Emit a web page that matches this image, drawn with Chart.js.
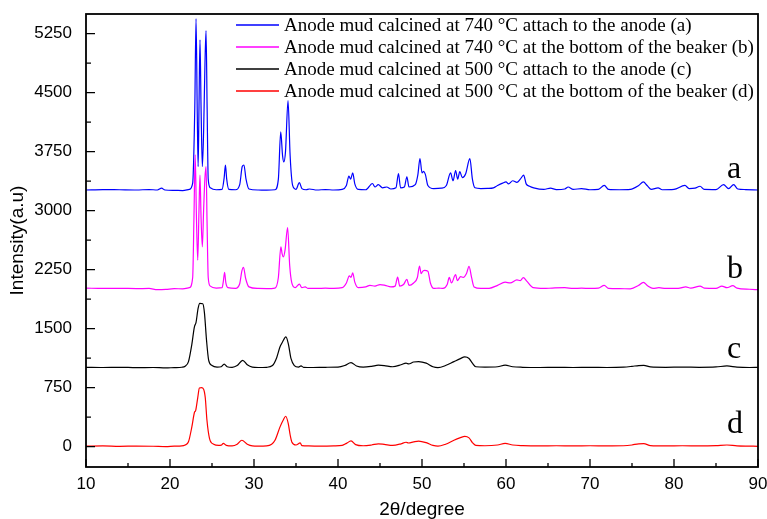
<!DOCTYPE html>
<html>
<head>
<meta charset="utf-8">
<script src="https://cdn.jsdelivr.net/npm/chart.js@4.4.1/dist/chart.umd.min.js"></script>
<style>
  html, body { margin: 0; padding: 0; background: #fff; }
  #wrap { width: 767px; height: 519px; }
</style>
</head>
<body>
<div id="wrap"><canvas id="xrd" width="767" height="519"></canvas></div>
<script>
// values (2theta in degrees, intensity in a.u.)
const seriesLabels = [
  "Anode mud calcined at 740 \u00b0C attach to the anode (a)",
  "Anode mud calcined at 740 \u00b0C at the bottom of the beaker (b)",
  "Anode mud calcined at 500 \u00b0C attach to the anode (c)",
  "Anode mud calcined at 500 \u00b0C at the bottom of the beaker (d)"
];
const curveLetters = ["a", "b", "c", "d"];
const seriesColors = ["#0000ff", "#ff00ff", "#000000", "#ff0000"];

const xTickValues = [10, 20, 30, 40, 50, 60, 70, 80, 90];
const yTickValues = [0, 750, 1500, 2250, 3000, 3750, 4500, 5250];

const thetaA = [10, 12, 14, 16, 17.5, 18.5, 19, 19.4, 20.5, 21.5, 22.3, 22.7, 22.95, 23.1, 23.25, 23.35, 23.45, 23.57, 23.7, 23.85, 24, 24.15, 24.29, 24.42, 24.55, 24.8, 25.5, 26.2, 26.45, 26.6, 26.75, 27, 27.8, 28.3, 28.6, 28.8, 29.05, 29.4, 30.5, 31.5, 32.5, 32.9, 33.18, 33.4, 33.55, 33.75, 34.05, 34.3, 34.6, 35, 35.4, 35.7, 36.2, 36.6, 37.5, 38.5, 39.5, 40.5, 41, 41.3, 41.5, 41.75, 42, 42.4, 43.3, 44.1, 44.4, 44.8, 45.3, 45.8, 46.3, 46.9, 47.2, 47.45, 47.9, 48.2, 48.45, 49.2, 49.5, 49.76, 50, 50.2, 50.4, 50.7, 51.4, 52.3, 52.9, 53.4, 53.7, 54, 54.25, 54.5, 54.8, 55.2, 55.7, 56, 56.3, 57, 57.8, 58.5, 59, 59.6, 60, 60.3, 60.8, 61.3, 61.7, 62.1, 62.4, 62.8, 63.3, 64.5, 65.3, 66, 67, 67.4, 68, 69, 70, 71, 71.7, 72.2, 73.5, 74.8, 75.8, 76.35, 76.8, 77.3, 78.1, 78.6, 80, 81.3, 81.8, 82.5, 83.1, 83.6, 85, 85.9, 86.5, 87.1, 87.6, 88.5, 90];
const intensityA = [3262, 3268, 3265, 3262, 3268, 3262, 3285, 3262, 3258, 3255, 3270, 3350, 4300, 5440, 4200, 3560, 4300, 5170, 4300, 3560, 4000, 4800, 5290, 4300, 3400, 3290, 3265, 3270, 3420, 3580, 3400, 3270, 3265, 3330, 3560, 3580, 3400, 3275, 3262, 3260, 3265, 3400, 4000, 3700, 3620, 3750, 4400, 3700, 3320, 3270, 3355, 3280, 3265, 3275, 3262, 3268, 3262, 3270, 3320, 3440, 3400, 3480, 3340, 3270, 3265, 3345, 3300, 3330, 3290, 3300, 3275, 3290, 3470, 3290, 3300, 3430, 3300, 3330, 3450, 3660, 3480, 3500, 3460, 3320, 3280, 3285, 3320, 3480, 3380, 3510, 3400, 3495, 3420, 3470, 3660, 3400, 3290, 3280, 3282, 3290, 3320, 3350, 3365, 3340, 3380, 3360, 3400, 3450, 3340, 3310, 3290, 3270, 3285, 3268, 3275, 3300, 3270, 3280, 3265, 3270, 3322, 3270, 3265, 3270, 3320, 3365, 3320, 3270, 3290, 3265, 3270, 3320, 3280, 3285, 3310, 3270, 3268, 3330, 3280, 3330, 3275, 3268, 3262];

const thetaB = [10, 12, 14, 16, 17.5, 18.5, 19.5, 20.5, 21.5, 22.3, 22.7, 22.85, 23, 23.15, 23.3, 23.45, 23.57, 23.7, 23.85, 24, 24.15, 24.29, 24.42, 24.55, 24.8, 25.5, 26.2, 26.35, 26.5, 26.65, 26.9, 27.8, 28.3, 28.55, 28.75, 29, 29.4, 30.5, 31.5, 32.5, 32.9, 33.2, 33.35, 33.5, 33.7, 34, 34.25, 34.5, 34.9, 35.4, 35.7, 36.1, 36.4, 37.5, 38.5, 39.5, 40.5, 41, 41.35, 41.55, 41.75, 42, 42.4, 43.3, 43.8, 44.4, 45, 45.6, 46.3, 46.8, 47.1, 47.35, 47.8, 48.2, 48.45, 49, 49.45, 49.7, 49.9, 50.1, 50.3, 50.7, 51, 51.4, 52, 52.5, 53, 53.25, 53.5, 54, 54.2, 54.6, 54.9, 55.3, 55.6, 55.9, 56.2, 57, 58, 59, 59.9, 60.5, 61.3, 61.7, 62.06, 62.5, 63.25, 64.5, 65.5, 67, 68, 69, 70, 71, 71.7, 72.2, 73.5, 74.8, 75.8, 76.35, 76.9, 77.5, 78.2, 79, 80.5, 81.4, 82, 83.1, 83.6, 85, 85.7, 86.3, 87, 87.5, 89, 90];
const intensityB = [2015, 2010, 2012, 2008, 2010, 1995, 1998, 2008, 2005, 2020, 2150, 2900, 3710, 2900, 2370, 3000, 3450, 2900, 2540, 3000, 3400, 3560, 2800, 2150, 2040, 2015, 2020, 2100, 2215, 2080, 2020, 2012, 2070, 2230, 2280, 2140, 2030, 2010, 2008, 2015, 2150, 2540, 2450, 2410, 2500, 2785, 2300, 2080, 2020, 2065, 2020, 2030, 2012, 2010, 2015, 2010, 2020, 2080, 2170, 2150, 2210, 2090, 2020, 2030, 2050, 2040, 2060, 2050, 2030, 2040, 2155, 2040, 2060, 2125, 2050, 2080, 2150, 2295, 2200, 2230, 2240, 2230, 2080, 2010, 2015, 2010, 2060, 2150, 2080, 2185, 2110, 2160, 2150, 2200, 2292, 2150, 2030, 2010, 2012, 2050, 2090, 2080, 2120, 2110, 2148, 2100, 2020, 2010, 2015, 2020, 2010, 2015, 2010, 2015, 2050, 2012, 2008, 2005, 2050, 2088, 2040, 2010, 2020, 2010, 2010, 2030, 2015, 2040, 2015, 2012, 2040, 2020, 2045, 2015, 2000, 1995];

const thetaC = [10, 12, 14, 16, 18, 19.5, 20.5, 21.4, 21.8, 22.2, 22.6, 22.9, 23.1, 23.35, 23.55, 23.9, 24.1, 24.35, 24.6, 25, 25.6, 26.1, 26.45, 26.8, 27.4, 28, 28.65, 29.2, 29.8, 30.5, 31.5, 32.2, 32.7, 33.1, 33.35, 33.8, 34.1, 34.4, 34.8, 35.3, 35.6, 35.9, 37, 38.5, 40, 40.8, 41.55, 42.2, 43, 44, 44.8, 45.5, 46.5, 47.5, 48.1, 48.4, 49, 49.6, 50.5, 51.3, 51.9, 52.8, 53.8, 54.5, 55.1, 55.6, 56, 56.4, 57.5, 59, 59.9, 60.8, 62, 64, 66, 68, 70, 72, 74, 75, 75.8, 76.4, 77.2, 79, 81, 83, 85, 86.3, 87.5, 89, 90];
const intensityC = [1008, 1005, 1008, 1003, 1005, 1000, 1004, 1008, 1020, 1080, 1300, 1520, 1580, 1760, 1820, 1815, 1700, 1350, 1100, 1030, 1010, 1015, 1048, 1015, 1008, 1030, 1097, 1040, 1010, 1005, 1008, 1030, 1130, 1270, 1320, 1395, 1300, 1120, 1030, 1010, 1025, 1008, 1005, 1008, 1010, 1030, 1067, 1025, 1010, 1020, 1035, 1030, 1015, 1040, 1062, 1050, 1075, 1080, 1060, 1015, 1004, 1030, 1080, 1115, 1140, 1120, 1060, 1015, 1010, 1015, 1035, 1015, 1008, 1005, 1008, 1005, 1008, 1005, 1010, 1020, 1030, 1032, 1012, 1008, 1010, 1008, 1012, 1025, 1010, 1005, 1008];

const thetaD = [10, 12, 14, 16, 18, 19.5, 20.5, 21.4, 21.8, 22.2, 22.6, 22.9, 23.06, 23.3, 23.5, 23.75, 24, 24.2, 24.4, 24.7, 25.2, 25.8, 26.1, 26.35, 26.7, 27.4, 28, 28.55, 29.2, 29.8, 30.5, 31.5, 32.1, 32.5, 33.1, 33.5, 33.77, 34.08, 34.3, 34.5, 35, 35.5, 35.7, 36.5, 38, 39.5, 40.5, 41, 41.55, 42.1, 43, 44, 44.8, 45.5, 46.5, 47.5, 48.1, 48.4, 49, 49.6, 50.5, 51.3, 51.9, 52.8, 53.8, 54.5, 55.1, 55.6, 56, 56.4, 57.5, 59, 59.9, 60.8, 62, 64, 66, 68, 70, 72, 74, 75, 75.8, 76.4, 77.2, 79, 81, 83, 85, 86.3, 87.5, 89, 90];
const intensityD = [5, 8, 3, 6, 4, 0, 5, 8, 20, 60, 250, 430, 461, 620, 745, 750, 730, 620, 334, 105, 30, 15, 18, 40, 15, 8, 30, 80, 30, 8, 5, 8, 30, 80, 250, 340, 385, 292, 150, 58, 20, 46, 12, 8, 5, 8, 15, 40, 71, 25, 10, 20, 35, 28, 15, 35, 55, 45, 60, 70, 50, 15, 5, 30, 80, 110, 130, 110, 50, 15, 10, 20, 40, 20, 12, 8, 10, 8, 10, 8, 10, 20, 35, 36, 12, 8, 10, 8, 12, 20, 8, 5, 3];

const thetas = [thetaA, thetaB, thetaC, thetaD];
const intensities = [intensityA, intensityB, intensityC, intensityD];

const toPoints = (xs, ys) => xs.map((x, i) => ({ x: x, y: ys[i] }));

// frame, inward ticks, legend and curve letters
const decorations = {
  id: "decorations",
  afterDraw(chart) {
    const { ctx, chartArea: area, scales } = chart;
    const xs = scales.x, ys = scales.y;
    ctx.save();
    ctx.strokeStyle = "#000";
    ctx.lineWidth = 1.8;
    ctx.strokeRect(area.left, area.top, area.right - area.left, area.bottom - area.top);

    ctx.lineWidth = 1.3;
    ctx.beginPath();
    for (let v = 10; v <= 90; v += 5) {
      const px = xs.getPixelForValue(v);
      const len = v % 10 === 0 ? 8 : 4;
      ctx.moveTo(px, area.bottom);
      ctx.lineTo(px, area.bottom - len);
    }
    for (let v = 0; v <= 5250; v += 375) {
      const py = ys.getPixelForValue(v);
      const len = v % 750 === 0 ? 9 : 5;
      ctx.moveTo(area.left, py);
      ctx.lineTo(area.left + len, py);
    }
    ctx.stroke();

    // legend
    ctx.font = "19px 'Liberation Serif', 'Times New Roman', serif";
    ctx.textBaseline = "middle";
    ctx.textAlign = "left";
    chart.data.datasets.forEach((ds, i) => {
      const y = 25 + i * 22;
      ctx.strokeStyle = ds.borderColor;
      ctx.lineWidth = 1.5;
      ctx.beginPath();
      ctx.moveTo(236, y);
      ctx.lineTo(279, y);
      ctx.stroke();
      ctx.fillStyle = "#000";
      ctx.fillText(ds.label, 284, y + 1);
    });

    // curve letters a..d
    ctx.font = "32px 'Liberation Serif', 'Times New Roman', serif";
    ctx.textBaseline = "alphabetic";
    const letterY = [3410, 2140, 1124, 169];
    curveLetters.forEach((t, i) => {
      ctx.fillText(t, xs.getPixelForValue(86.3), ys.getPixelForValue(letterY[i]));
    });
    ctx.restore();
  }
};

const drawOrder = [1, 0, 1, 1];
const tickFont = { family: "'Liberation Sans', Arial, sans-serif", size: 17 };
const titleFont = { family: "'Liberation Sans', Arial, sans-serif", size: 19, lineHeight: 1 };

new Chart(document.getElementById("xrd"), {
  type: "line",
  data: {
    datasets: seriesLabels.map((label, i) => ({
      label: label,
      data: toPoints(thetas[i], intensities[i]),
      borderColor: seriesColors[i],
      backgroundColor: seriesColors[i],
      borderWidth: 1.2,
      pointRadius: 0,
      cubicInterpolationMode: "monotone",
      fill: false,
      order: drawOrder[i]
    }))
  },
  options: {
    responsive: false,
    animation: false,
    events: [],
    layout: { padding: { top: 14, right: 9, left: 0, bottom: 0 } },
    plugins: {
      legend: { display: false },
      tooltip: { enabled: false }
    },
    scales: {
      x: {
        type: "linear",
        min: 10,
        max: 90,
        afterBuildTicks: s => { s.ticks = xTickValues.map(v => ({ value: v })); },
        afterFit: s => { s.height = 52; s.paddingLeft = 0; s.paddingRight = 0; },
        grid: { display: false, drawTicks: false },
        border: { display: false },
        ticks: { padding: 7, color: "#000", font: tickFont, callback: v => String(v) },
        title: {
          display: true,
          text: "2\u03b8/degree",
          color: "#000",
          padding: { top: 0, bottom: 0 },
          font: titleFont
        }
      },
      y: {
        type: "linear",
        min: -260,
        max: 5500,
        afterBuildTicks: s => { s.ticks = yTickValues.map(v => ({ value: v })); },
        afterFit: s => { s.width = 86; s.paddingTop = 0; s.paddingBottom = 0; },
        grid: { display: false, drawTicks: false },
        border: { display: false },
        ticks: { padding: 14, color: "#000", font: tickFont, callback: v => String(v) },
        title: {
          display: true,
          text: "Intensity(a.u)",
          color: "#000",
          padding: { top: 8, bottom: 0 },
          font: titleFont
        }
      }
    }
  },
  plugins: [decorations]
});
</script>
</body>
</html>
